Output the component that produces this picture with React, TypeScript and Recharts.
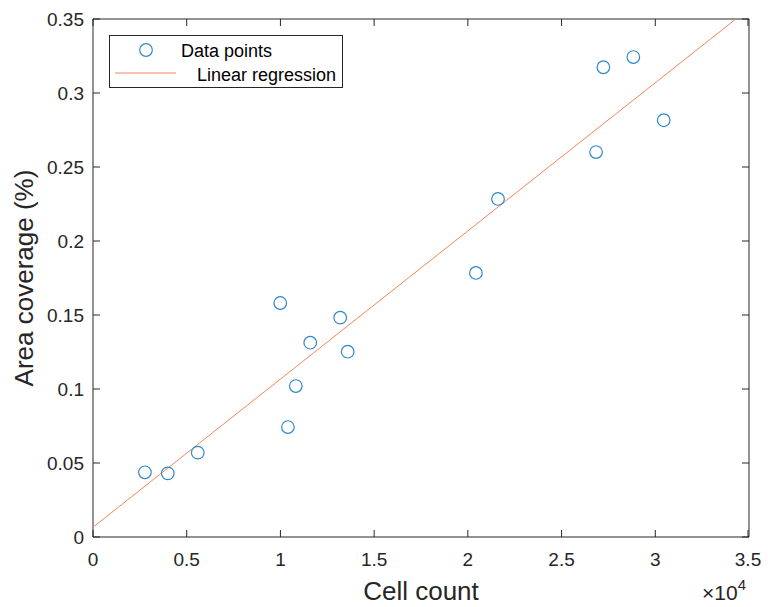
import { ScatterChart, Scatter, XAxis, YAxis, Legend } from 'recharts';

const cellCount = [2770, 3990, 5590, 9990, 10400, 10820, 11590, 13190, 13590, 20430, 21610, 26840, 27230, 28830, 30450];
const areaCoverage = [0.0437, 0.043, 0.057, 0.1581, 0.0743, 0.102, 0.1313, 0.1482, 0.1252, 0.1784, 0.2284, 0.2601, 0.3174, 0.3243, 0.2816];

// end points of the fitted line
const fitX = [0, 34300];
const fitY = [0.0066, 0.35];

const xTicks = [0, 5000, 10000, 15000, 20000, 25000, 30000, 35000];
const yTicks = [0, 0.05, 0.1, 0.15, 0.2, 0.25, 0.3, 0.35];

const points = cellCount.map((c, i) => ({ x: c, y: areaCoverage[i] }));
const fit = fitX.map((x, i) => ({ x, y: fitY[i] }));

const FONT = '"Liberation Sans", Arial, sans-serif';
const INK = '#262626';
const BLUE = '#2F88CC';
const ORANGE = '#F2865A';

const fmtY = (v: number) => String(Number(v.toFixed(2)));
const fmtX = (v: number) => String(v / 10000);

const BottomTick = ({ x, y, payload }: any) => (
  <g>
    <line x1={x} y1={y} x2={x} y2={y - 7} stroke={INK} />
    <text x={x} y={y + 29} textAnchor="middle" fontSize={19} fill={INK} fontFamily={FONT}>
      {fmtX(payload.value)}
    </text>
  </g>
);

const LeftTick = ({ x, y, payload }: any) => (
  <g>
    <line x1={x} y1={y} x2={x + 7} y2={y} stroke={INK} />
    <text x={x - 9} y={y + 7} textAnchor="end" fontSize={19} fill={INK} fontFamily={FONT}>
      {fmtY(payload.value)}
    </text>
  </g>
);

const TopTick = ({ x, y }: any) => <line x1={x} y1={y} x2={x} y2={y + 7} stroke={INK} />;
const RightTick = ({ x, y }: any) => <line x1={x} y1={y} x2={x - 7} y2={y} stroke={INK} />;

const XLabel = ({ viewBox }: any) => {
  const { x, y, width } = viewBox;
  return (
    <g fontFamily={FONT} fill={INK}>
      <text x={x + width / 2} y={y + 63} textAnchor="middle" fontSize={26}>
        Cell count
      </text>
      <text x={x + width - 47} y={y + 63} fontSize={21}>
        ×10<tspan dy={-10} fontSize={15}>4</tspan>
      </text>
    </g>
  );
};

const YLabel = ({ viewBox }: any) => {
  const { y, height } = viewBox;
  const cy = y + height / 2;
  return (
    <text
      x={33}
      y={cy}
      transform={`rotate(-90, 33, ${cy})`}
      textAnchor="middle"
      fontSize={26}
      fill={INK}
      fontFamily={FONT}
    >
      Area coverage (%)
    </text>
  );
};

const Circle = (props: any) => (
  <circle cx={props.cx} cy={props.cy} r={6.3} fill="none" stroke={BLUE} strokeWidth={1.2} />
);

const LegendBox = () => (
  <svg width={234} height={53} style={{ display: 'block' }}>
    <rect x={0.5} y={0.5} width={233} height={52} fill="#fff" stroke={INK} />
    <circle cx={37} cy={15} r={6.3} fill="none" stroke={BLUE} strokeWidth={1.2} />
    <text x={72} y={22} fontSize={18} fill="#000" fontFamily={FONT}>
      Data points
    </text>
    <line x1={6} y1={38} x2={67} y2={38} stroke={ORANGE} />
    <text x={88} y={46} fontSize={18} fill="#000" fontFamily={FONT}>
      Linear regression
    </text>
  </svg>
);

export default function App() {
  return (
    <div style={{ position: 'absolute', left: 0, top: 0, width: 768, height: 607, background: '#fff' }}>
      <ScatterChart width={768} height={607} margin={{ top: 18, right: 18, bottom: 0, left: 0 }}>
        <XAxis
          type="number"
          dataKey="x"
          domain={[0, 35000]}
          ticks={xTicks}
          height={70}
          tickSize={0}
          tickMargin={0}
          tick={BottomTick}
          axisLine={{ stroke: INK }}
          label={XLabel}
          allowDataOverflow
        />
        <XAxis
          xAxisId="top"
          orientation="top"
          type="number"
          dataKey="x"
          domain={[0, 35000]}
          ticks={xTicks}
          height={1}
          tickSize={0}
          tickMargin={0}
          tick={TopTick}
          axisLine={{ stroke: INK }}
          allowDataOverflow
        />
        <YAxis
          type="number"
          dataKey="y"
          domain={[0, 0.35]}
          ticks={yTicks}
          width={93}
          tickSize={0}
          tickMargin={0}
          tick={LeftTick}
          axisLine={{ stroke: INK }}
          label={YLabel}
          allowDataOverflow
        />
        <YAxis
          yAxisId="right"
          orientation="right"
          type="number"
          dataKey="y"
          domain={[0, 0.35]}
          ticks={yTicks}
          width={1}
          tickSize={0}
          tickMargin={0}
          tick={RightTick}
          axisLine={{ stroke: INK }}
          allowDataOverflow
        />
        <Legend
          layout="horizontal"
          verticalAlign="middle"
          align="center"
          content={LegendBox}
          wrapperStyle={{ left: 109, top: 35, width: 234, height: 53 }}
        />
        {/* invisible series so the top/right box axes get drawn */}
        <Scatter
          xAxisId="top"
          yAxisId="right"
          data={fit}
          shape={() => <g />}
          legendType="none"
          isAnimationActive={false}
        />
        <Scatter
          name="Linear regression"
          data={fit}
          line={{ stroke: ORANGE, strokeWidth: 1 }}
          shape={() => <g />}
          isAnimationActive={false}
        />
        <Scatter name="Data points" data={points} shape={Circle} isAnimationActive={false} />
      </ScatterChart>
    </div>
  );
}
